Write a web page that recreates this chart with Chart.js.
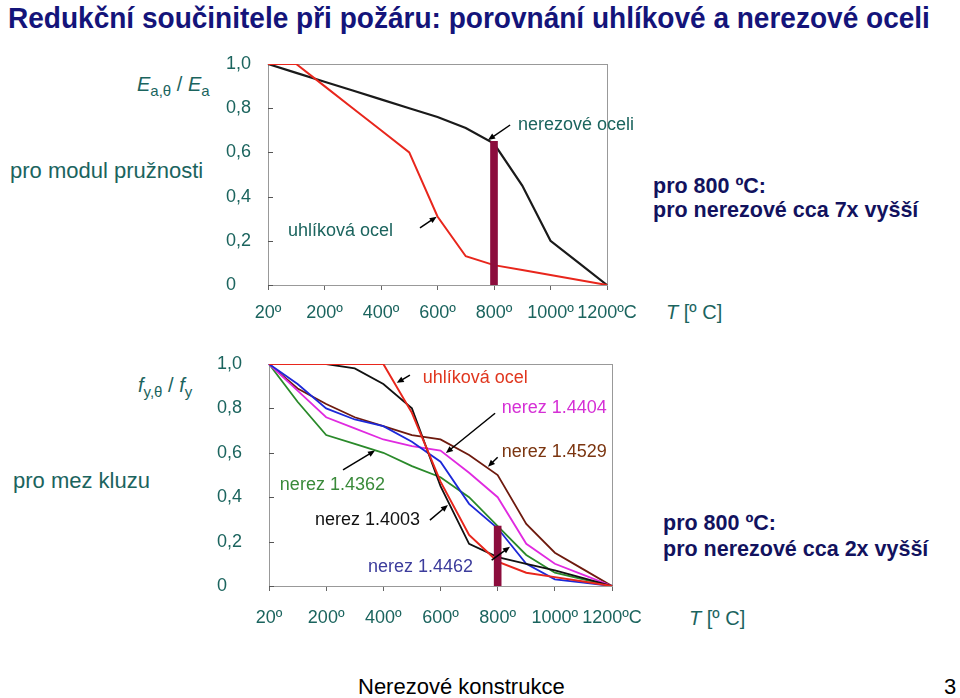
<!DOCTYPE html>
<html lang="cs">
<head>
<meta charset="utf-8">
<title>Redukční součinitele při požáru</title>
<script src="https://cdn.jsdelivr.net/npm/chart.js@4.4.1/dist/chart.umd.min.js"></script>
<style>
  body { margin: 0; width: 960px; height: 698px; position: relative; overflow: hidden; background: #fff;
         font-family: "Liberation Sans", Arial, sans-serif; }
  .t { position: absolute; white-space: nowrap; line-height: 1; }
  .teal { color: #1b645e; }
  .navy { color: #12125e; font-weight: bold; font-size: 21.5px; }
  .sym { font-size: 20px; }
  .sym sub { font-size: 15px; vertical-align: -5px; font-style: normal; }
  canvas { position: absolute; }
</style>
</head>
<body>
<div id="nadpis" class="t" style="left:8px;top:3px;font-size:30px;font-weight:bold;color:#14147a;transform-origin:0 0">Redukční součinitele při požáru: porovnání uhlíkové a nerezové oceli</div>

<div class="t teal sym" style="left:137px;top:74px"><i>E</i><sub>a,θ</sub> / <i>E</i><sub>a</sub></div>
<div class="t teal" style="left:10px;top:160px;font-size:22px">pro modul pružnosti</div>
<div class="t navy" style="left:653px;top:176px">pro 800 ºC:</div>
<div class="t navy" style="left:653px;top:200px">pro nerezové cca 7x vyšší</div>
<div class="t teal" style="left:666px;top:302px;font-size:20px"><i>T</i> [º C]</div>

<div class="t teal sym" style="left:138px;top:375px"><i>f</i><sub>y,θ</sub> / <i>f</i><sub>y</sub></div>
<div class="t teal" style="left:13px;top:470px;font-size:22px">pro mez kluzu</div>
<div class="t navy" style="left:663px;top:513px">pro 800 ºC:</div>
<div class="t navy" style="left:663px;top:539px">pro nerezové cca 2x vyšší</div>
<div class="t teal" style="left:689px;top:608px;font-size:20px"><i>T</i> [º C]</div>

<div class="t" style="left:358px;top:676px;font-size:22px;color:#000">Nerezové konstrukce</div>
<div class="t" style="left:944px;top:676px;font-size:22px;color:#000">3</div>

<canvas id="grafE" width="440" height="300" style="left:226px;top:40px"></canvas>
<canvas id="grafFy" width="450" height="300" style="left:217px;top:340px"></canvas>

<script>
// teploty (ºC) - kategorie osy x
const teploty = ['20', '100', '200', '300', '400', '500', '600', '700', '800', '900', '1000', '1100', '1200'];

// modul pruznosti E_a,theta / E_a
const E_uhlikova = [1.00, 1.00, 0.90, 0.80, 0.70, 0.60, 0.31, 0.13, 0.09, 0.0675, 0.045, 0.0225, 0];
const E_nerezova = [1.00, 0.96, 0.92, 0.88, 0.84, 0.80, 0.76, 0.71, 0.64, 0.45, 0.20, 0.10, 0];
const E_sloupec = [null, null, null, null, null, null, null, null, 0.65, null, null, null, null];

// mez kluzu f_y,theta / f_y
const fy_uhlikova = [1.00, 1.00, 1.00, 1.00, 1.00, 0.78, 0.47, 0.23, 0.11, 0.06, 0.04, 0.02, 0];
const fy_14003 = [1.00, 1.00, 1.00, 0.98, 0.91, 0.80, 0.45, 0.19, 0.13, 0.10, 0.07, 0.035, 0];
const fy_14462 = [1.00, 0.91, 0.80, 0.75, 0.72, 0.65, 0.56, 0.37, 0.26, 0.10, 0.03, 0.015, 0];
const fy_14404 = [1.00, 0.88, 0.76, 0.71, 0.66, 0.63, 0.61, 0.51, 0.40, 0.19, 0.10, 0.05, 0];
const fy_14362 = [1.00, 0.83, 0.68, 0.64, 0.60, 0.54, 0.49, 0.40, 0.27, 0.14, 0.06, 0.03, 0];
const fy_14529 = [1.00, 0.89, 0.82, 0.76, 0.72, 0.68, 0.66, 0.59, 0.50, 0.28, 0.15, 0.075, 0];
const fy_sloupec = [null, null, null, null, null, null, null, null, 0.27, null, null, null, null];

const yTicks = [0, 0.2, 0.4, 0.6, 0.8, 1.0];

const TEAL = '#1b645e';
const FONT = '"Liberation Sans", Arial, sans-serif';

// nadpis zuzit na sirku predlohy
const nadpis = document.getElementById('nadpis');
nadpis.style.transform = 'scaleX(' + (922 / nadpis.offsetWidth) + ')';

// ramecek, vnitrni carky na ose y, popisky a sipky
function popisky(notes, arrows) {
  return {
    id: 'popisky',
    beforeDatasetsDraw(chart) {
      const { ctx, chartArea: a, scales: { y } } = chart;
      ctx.save();
      ctx.strokeStyle = '#999';
      ctx.lineWidth = 1;
      ctx.strokeRect(a.left + 0.5, a.top + 0.5, a.right - a.left, a.bottom - a.top);
      ctx.strokeStyle = '#555';
      ctx.beginPath();
      yTicks.forEach(v => {
        const py = Math.round(y.getPixelForValue(v)) + 0.5;
        ctx.moveTo(a.left, py);
        ctx.lineTo(a.left + 5, py);
      });
      ctx.stroke();
      ctx.restore();
    },
    afterDatasetsDraw(chart) {
      const { ctx, scales: { x, y } } = chart;
      ctx.save();
      ctx.font = '18px ' + FONT;
      ctx.textBaseline = 'middle';
      ctx.textAlign = 'left';
      notes.forEach(n => {
        ctx.fillStyle = n.color;
        ctx.fillText(n.text, x.getPixelForValue(n.at[0]), y.getPixelForValue(n.at[1]));
      });
      ctx.strokeStyle = '#000';
      ctx.fillStyle = '#000';
      ctx.lineWidth = 1.5;
      arrows.forEach(s => {
        const x1 = x.getPixelForValue(s.from[0]), y1 = y.getPixelForValue(s.from[1]);
        const x2 = x.getPixelForValue(s.to[0]), y2 = y.getPixelForValue(s.to[1]);
        const ang = Math.atan2(y2 - y1, x2 - x1);
        ctx.beginPath();
        ctx.moveTo(x1, y1);
        ctx.lineTo(x2 - 4 * Math.cos(ang), y2 - 4 * Math.sin(ang));
        ctx.stroke();
        ctx.beginPath();
        ctx.moveTo(x2, y2);
        ctx.lineTo(x2 - 7 * Math.cos(ang) + 3 * Math.sin(ang), y2 - 7 * Math.sin(ang) - 3 * Math.cos(ang));
        ctx.lineTo(x2 - 7 * Math.cos(ang) - 3 * Math.sin(ang), y2 - 7 * Math.sin(ang) + 3 * Math.cos(ang));
        ctx.closePath();
        ctx.fill();
      });
      ctx.restore();
    }
  };
}

function cara(data, color, width) {
  return { type: 'line', data: data, borderColor: color, borderWidth: width || 2,
           pointRadius: 0, tension: 0, fill: false, order: 1 };
}

function sloupec(data) {
  return { type: 'bar', data: data, backgroundColor: '#8c0d3d', barThickness: 7, order: -1 };
}

function volby(yWidth, xHeight, xPad, padRight) {
  return {
    responsive: false,
    animation: false,
    layout: { padding: { top: 24, right: padRight, left: 0, bottom: 0 } },
    plugins: { legend: { display: false }, tooltip: { enabled: false } },
    scales: {
      x: {
        type: 'category',
        offset: false,
        grid: { display: true, offset: false, drawOnChartArea: false, tickLength: 5,
                color: c => (c.index % 2 === 0 ? '#666' : 'rgba(0,0,0,0)') },
        border: { display: true, color: '#555' },
        ticks: {
          autoSkip: false, maxRotation: 0, padding: xPad, color: TEAL,
          font: { size: 18, family: FONT },
          callback: function (v, i) {
            if (i % 2) return '';
            const t = this.getLabelForValue(v);
            return t === '1200' ? '1200ºC' : t + 'º';
          }
        },
        afterFit: s => { s.height = xHeight; }
      },
      y: {
        min: 0, max: 1,
        grid: { display: false },
        border: { display: true, color: '#555' },
        ticks: {
          stepSize: 0.2, crossAlign: 'far', color: TEAL, font: { size: 18, family: FONT },
          callback: v => (v === 0 ? '0' : v.toFixed(1).replace('.', ','))
        },
        afterFit: s => { s.width = yWidth; }
      }
    }
  };
}

new Chart(document.getElementById('grafE'), {
  type: 'line',
  data: {
    labels: teploty,
    datasets: [
      sloupec(E_sloupec),
      cara(E_uhlikova, '#e8261c', 2),
      cara(E_nerezova, '#1a1a1a', 2.2)
    ]
  },
  options: volby(42, 55, 12, 59),
  plugins: [popisky(
    [
      { text: 'nerezové oceli', at: [8.85, 0.726], color: TEAL },
      { text: 'uhlíková ocel', at: [0.71, 0.244], color: TEAL }
    ],
    [
      { from: [8.57, 0.724], to: [7.79, 0.656] },
      { from: [5.38, 0.258], to: [5.97, 0.309] }
    ]
  )]
});

new Chart(document.getElementById('grafFy'), {
  type: 'line',
  data: {
    labels: teploty,
    datasets: [
      sloupec(fy_sloupec),
      cara(fy_uhlikova, '#e8261c', 2),
      cara(fy_14003, '#111111', 1.8),
      cara(fy_14462, '#1c28d8', 1.8),
      cara(fy_14404, '#e02ae0', 1.8),
      cara(fy_14362, '#2a8a2a', 1.8),
      cara(fy_14529, '#6e1a0e', 1.8)
    ]
  },
  options: volby(52, 54, 16, 55),
  plugins: [popisky(
    [
      { text: 'uhlíková ocel', at: [5.38, 0.937], color: '#e0361e' },
      { text: 'nerez 1.4404', at: [8.14, 0.802], color: '#d52fd5' },
      { text: 'nerez 1.4529', at: [8.14, 0.605], color: '#7b3510' },
      { text: 'nerez 1.4362', at: [0.38, 0.455], color: '#3a8a3a' },
      { text: 'nerez 1.4003', at: [1.61, 0.297], color: '#111111' },
      { text: 'nerez 1.4462', at: [3.46, 0.087], color: '#3c3c9c' }
    ],
    [
      { from: [4.93, 0.950], to: [4.47, 0.915] },
      { from: [7.91, 0.778], to: [6.19, 0.599] },
      { from: [8.00, 0.580], to: [7.66, 0.537] },
      { from: [2.59, 0.523], to: [3.71, 0.610] },
      { from: [5.63, 0.297], to: [6.26, 0.365] },
      { from: [7.79, 0.117], to: [8.43, 0.177] }
    ]
  )]
});
</script>
</body>
</html>
